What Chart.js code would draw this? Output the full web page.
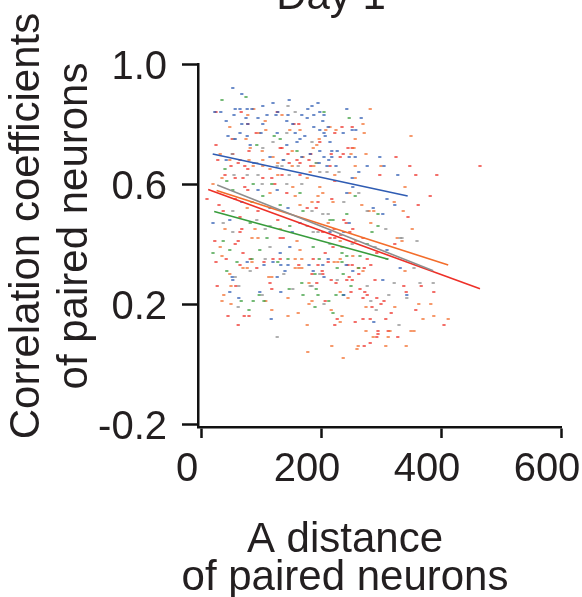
<!DOCTYPE html>
<html>
<head>
<meta charset="utf-8">
<script src="https://cdn.jsdelivr.net/npm/chart.js@4.4.1/dist/chart.umd.min.js"></script>
<style>
  html, body { margin: 0; padding: 0; background: #fff; }
  #wrap { width: 582px; height: 597px; }
</style>
</head>
<body>
<div id="wrap"><canvas id="chart" width="582" height="597"></canvas></div>
<script>
// values: [distance, correlation]
const bluePts = [[53,0.92],[68,0.90],[57,0.85],[65,0.85],[77,0.85],[85,0.85],[103,0.86],[120,0.87],[147,0.88],[23,0.84],[33,0.84],[42,0.81],[55,0.83],[75,0.82],[68,0.80],[78,0.80],[95,0.82],[103,0.80],[110,0.83],[128,0.84],[125,0.83],[145,0.83],[168,0.83],[178,0.85],[143,0.81],[153,0.80],[177,0.82],[65,0.77],[100,0.77],[127,0.77],[77,0.76],[157,0.77],[165,0.75],[45,0.76],[57,0.75],[82,0.73],[115,0.69],[143,0.73],[160,0.74],[173,0.76],[182,0.70],[137,0.68],[42,0.68],[88,0.67],[168,0.69],[195,0.87],[185,0.86],[243,0.85],[205,0.83],[198,0.84],[188,0.83],[203,0.81],[188,0.79],[198,0.78],[205,0.77],[212,0.79],[237,0.77],[252,0.78],[258,0.78],[267,0.82],[207,0.76],[215,0.74],[218,0.71],[227,0.71],[198,0.71],[205,0.69],[213,0.68],[218,0.69],[247,0.69],[257,0.69],[298,0.69],[277,0.66],[305,0.66],[197,0.67],[210,0.66],[225,0.66],[95,0.58],[127,0.58],[68,0.54],[115,0.52],[145,0.52],[20,0.47],[48,0.48],[165,0.47],[152,0.44],[132,0.37],[148,0.39],[263,0.64],[252,0.62],[328,0.63],[253,0.59],[243,0.57],[287,0.52],[310,0.55],[323,0.53],[303,0.50],[247,0.47],[215,0.44],[238,0.44],[310,0.38],[212,0.35],[77,0.34],[105,0.33],[120,0.34],[180,0.33],[133,0.33],[145,0.33],[140,0.31],[52,0.29],[127,0.29],[53,0.28],[48,0.24],[98,0.24],[133,0.24],[63,0.22],[117,0.15],[203,0.33],[242,0.33],[332,0.32],[187,0.31],[205,0.29],[253,0.31],[303,0.28],[238,0.23],[343,0.23],[288,0.14]];

const redPts = [[25,0.84],[67,0.84],[127,0.84],[78,0.80],[92,0.77],[163,0.80],[155,0.80],[52,0.75],[25,0.73],[80,0.71],[132,0.72],[135,0.72],[145,0.70],[165,0.67],[53,0.70],[65,0.68],[28,0.68],[73,0.66],[160,0.68],[180,0.68],[50,0.66],[62,0.67],[78,0.65],[147,0.67],[235,0.79],[252,0.79],[223,0.77],[198,0.74],[252,0.72],[245,0.72],[183,0.70],[217,0.70],[237,0.70],[232,0.69],[325,0.69],[348,0.66],[183,0.66],[215,0.66],[40,0.63],[57,0.62],[70,0.62],[103,0.62],[118,0.62],[135,0.63],[165,0.63],[73,0.59],[123,0.60],[78,0.58],[143,0.57],[10,0.55],[57,0.55],[95,0.51],[177,0.52],[30,0.53],[37,0.51],[65,0.49],[128,0.48],[68,0.45],[65,0.44],[57,0.40],[62,0.41],[23,0.41],[132,0.42],[137,0.42],[70,0.37],[82,0.35],[120,0.35],[298,0.63],[358,0.63],[223,0.61],[218,0.55],[362,0.53],[195,0.54],[192,0.52],[345,0.49],[238,0.48],[242,0.47],[203,0.44],[222,0.45],[248,0.44],[253,0.45],[233,0.43],[215,0.42],[223,0.42],[270,0.42],[220,0.39],[323,0.40],[207,0.37],[293,0.37],[277,0.35],[25,0.34],[42,0.35],[105,0.34],[132,0.35],[163,0.33],[65,0.33],[93,0.32],[115,0.27],[27,0.26],[58,0.26],[118,0.25],[45,0.16],[72,0.16],[80,0.16],[62,0.13],[187,0.35],[212,0.34],[195,0.33],[245,0.33],[252,0.33],[272,0.32],[283,0.33],[202,0.31],[203,0.30],[185,0.30],[263,0.30],[247,0.29],[217,0.28],[243,0.28],[252,0.28],[290,0.28],[225,0.27],[193,0.27],[338,0.26],[265,0.25],[273,0.24],[250,0.24],[277,0.23],[293,0.22],[342,0.24],[270,0.22],[207,0.21],[300,0.20],[305,0.21],[285,0.19],[317,0.17],[358,0.18],[227,0.15],[257,0.14],[270,0.15],[282,0.15],[308,0.15],[223,0.13],[295,0.11],[312,0.11],[295,0.10],[328,0.09],[293,0.09],[282,0.07],[272,0.06],[393,0.63],[465,0.66],[382,0.56],[367,0.26],[388,0.24],[405,0.13]];

const orangePts = [[78,0.83],[88,0.85],[135,0.83],[107,0.81],[48,0.79],[108,0.78],[97,0.77],[148,0.78],[165,0.78],[75,0.75],[82,0.72],[102,0.71],[152,0.71],[170,0.69],[32,0.70],[80,0.68],[103,0.68],[120,0.69],[48,0.68],[87,0.66],[103,0.66],[128,0.67],[115,0.65],[152,0.66],[282,0.85],[215,0.79],[208,0.78],[225,0.78],[270,0.80],[272,0.77],[257,0.75],[197,0.75],[193,0.73],[187,0.72],[255,0.72],[250,0.70],[275,0.70],[350,0.76],[257,0.66],[300,0.66],[188,0.66],[35,0.62],[128,0.63],[177,0.62],[20,0.60],[153,0.59],[115,0.57],[157,0.56],[77,0.52],[165,0.53],[40,0.45],[90,0.45],[132,0.45],[85,0.42],[95,0.42],[160,0.41],[165,0.38],[32,0.39],[35,0.36],[168,0.35],[182,0.64],[223,0.63],[257,0.62],[198,0.59],[203,0.57],[195,0.56],[248,0.57],[220,0.54],[268,0.53],[322,0.54],[340,0.59],[185,0.54],[280,0.51],[288,0.51],[283,0.47],[212,0.47],[352,0.45],[232,0.41],[258,0.41],[327,0.42],[235,0.39],[253,0.36],[232,0.35],[85,0.34],[157,0.35],[70,0.32],[77,0.32],[157,0.32],[163,0.32],[168,0.32],[48,0.30],[113,0.29],[118,0.29],[180,0.27],[50,0.26],[38,0.23],[145,0.22],[35,0.21],[108,0.21],[180,0.20],[50,0.20],[118,0.18],[162,0.17],[145,0.16],[177,0.13],[222,0.34],[228,0.34],[262,0.32],[270,0.31],[232,0.24],[245,0.22],[185,0.21],[275,0.19],[323,0.19],[363,0.20],[217,0.18],[235,0.16],[232,0.14],[275,0.11],[315,0.11],[350,0.11],[355,0.11],[312,0.09],[287,0.09],[262,0.06],[308,0.06],[342,0.06],[218,0.06],[337,0.51],[335,0.41],[340,0.31],[383,0.20],[370,0.15],[388,0.16],[412,0.15],[178,0.04],[237,0.02],[260,0.05]];

const greenPts = [[75,0.89],[35,0.88],[122,0.76],[132,0.75],[93,0.73],[160,0.71],[40,0.65],[205,0.84],[247,0.82],[192,0.67],[43,0.61],[87,0.60],[118,0.60],[53,0.58],[103,0.56],[165,0.57],[85,0.54],[132,0.53],[170,0.51],[82,0.47],[148,0.46],[37,0.41],[110,0.42],[48,0.38],[98,0.38],[20,0.37],[145,0.35],[257,0.56],[243,0.50],[295,0.50],[215,0.48],[220,0.48],[295,0.46],[285,0.44],[187,0.39],[277,0.40],[235,0.37],[243,0.36],[265,0.36],[60,0.34],[85,0.35],[128,0.34],[43,0.31],[168,0.27],[147,0.25],[97,0.23],[170,0.23],[67,0.21],[87,0.21],[105,0.21],[80,0.18],[197,0.35],[235,0.34],[263,0.32],[227,0.32],[190,0.30],[237,0.30],[250,0.26],[192,0.25],[237,0.23],[225,0.23],[195,0.23],[213,0.21],[190,0.19],[220,0.17]];

const grayPts = [[145,0.86],[157,0.84],[143,0.77],[55,0.75],[120,0.74],[103,0.72],[138,0.68],[52,0.70],[135,0.66],[127,0.66],[162,0.66],[93,0.67],[185,0.74],[193,0.67],[55,0.63],[77,0.63],[95,0.63],[147,0.63],[102,0.60],[143,0.60],[168,0.60],[53,0.51],[37,0.47],[93,0.48],[115,0.46],[177,0.46],[107,0.45],[53,0.44],[115,0.39],[107,0.35],[198,0.64],[210,0.64],[230,0.64],[263,0.57],[238,0.54],[185,0.51],[203,0.50],[212,0.50],[277,0.51],[308,0.45],[187,0.44],[195,0.44],[335,0.42],[360,0.41],[215,0.40],[252,0.40],[290,0.39],[82,0.31],[138,0.30],[57,0.29],[182,0.26],[63,0.26],[153,0.25],[102,0.23],[62,0.19],[127,0.09],[310,0.35],[198,0.30],[227,0.28],[277,0.26],[322,0.27],[185,0.26],[313,0.23],[343,0.22],[205,0.20],[283,0.21],[292,0.18],[330,0.13],[332,0.42],[355,0.32],[365,0.27],[387,0.27]];

// regression lines, start and end
const blueFit = [[19.5,0.70],[344.5,0.56]];
const redFit = [[12,0.582],[465,0.251]];
const orangeFit = [[26,0.578],[412,0.33]];
const grayFit = [[27,0.597],[387,0.311]];
const greenFit = [[22,0.508],[312,0.349]];

const xTicks = [0, 200, 400, 600];
const yTicks = [-0.2, 0.2, 0.6, 1.0];

const titleText = 'Day 1';
const xTitle = ['A distance', 'of paired neurons'];
const yTitle = ['Correlation coefficients', 'of paired neurons'];

const INK = '#231f20';
const FONT = '"Liberation Sans", Arial, Helvetica, sans-serif';

const COLORS = {
  blue: '#2f5cb3',
  red: '#ee3028',
  orange: '#f36d2b',
  green: '#389c3c',
  gray: '#8e8e8e'
};

function toXY(arr) {
  return arr.map(p => ({ x: p[0], y: p[1] }));
}

function pointSet(label, pts, color) {
  return {
    type: 'scatter',
    label: label,
    data: toXY(pts),
    pointStyle: 'line',
    pointRadius: 1.6,
    pointBorderWidth: 1.4,
    borderColor: color,
    backgroundColor: color,
    pointHoverRadius: 1.6,
    order: 2
  };
}

function fitSet(label, pts, color) {
  return {
    type: 'line',
    label: label,
    data: toXY(pts),
    borderColor: color,
    borderWidth: 1.6,
    pointRadius: 0,
    fill: false,
    order: 1
  };
}

// titles placed like the figure, off-centre from the plot area
const figureText = {
  id: 'figureText',
  afterDraw(chart) {
    const ctx = chart.ctx;
    ctx.save();
    ctx.fillStyle = INK;
    ctx.font = '42px ' + FONT;
    ctx.textAlign = 'center';
    ctx.textBaseline = 'alphabetic';
    ctx.fillText(titleText, 331, 9);

    ctx.fillText(xTitle[0], 345, 552);
    ctx.fillText(xTitle[1], 345, 590);

    ctx.translate(39, 226);
    ctx.rotate(-Math.PI / 2);
    ctx.fillText(yTitle[0], 0, 0);
    ctx.fillText(yTitle[1], 0, 48);
    ctx.restore();
  }
};

const ctx = document.getElementById('chart');

new Chart(ctx, {
  type: 'scatter',
  data: {
    datasets: [
      pointSet('blue', bluePts, COLORS.blue),
      pointSet('gray', grayPts, COLORS.gray),
      pointSet('green', greenPts, COLORS.green),
      pointSet('orange', orangePts, COLORS.orange),
      pointSet('red', redPts, COLORS.red),
      fitSet('blue fit', blueFit, COLORS.blue),
      fitSet('gray fit', grayFit, COLORS.gray),
      fitSet('orange fit', orangeFit, COLORS.orange),
      fitSet('red fit', redFit, COLORS.red),
      fitSet('green fit', greenFit, COLORS.green)
    ]
  },
  options: {
    responsive: false,
    animation: false,
    devicePixelRatio: 1,
    layout: { padding: { top: 64, right: 21, bottom: 0, left: 0 } },
    plugins: {
      legend: { display: false },
      title: { display: false },
      tooltip: { enabled: false }
    },
    scales: {
      x: {
        type: 'linear',
        min: -5,
        max: 600,
        afterBuildTicks: scale => { scale.ticks = xTicks.map(v => ({ value: v })); },
        afterFit: scale => {
          scale.height = 170;
          scale.paddingLeft = 0;
          scale.paddingRight = 0;
        },
        grid: {
          drawOnChartArea: false,
          drawTicks: true,
          tickLength: 11,
          tickWidth: 2.5,
          tickColor: '#111'
        },
        border: { display: true, color: '#111', width: 2.5 },
        ticks: {
          color: INK,
          font: { family: FONT, size: 40 },
          padding: 8,
          labelOffset: -14,
          maxRotation: 0,
          callback: v => String(v)
        }
      },
      y: {
        type: 'linear',
        min: -0.21,
        max: 1.0,
        afterBuildTicks: scale => { scale.ticks = yTicks.map(v => ({ value: v })); },
        afterFit: scale => {
          scale.width = 198;
          scale.paddingTop = 0;
          scale.paddingBottom = 0;
        },
        grid: {
          drawOnChartArea: false,
          drawTicks: true,
          tickLength: 16,
          tickWidth: 2.5,
          tickColor: '#111'
        },
        border: { display: true, color: '#111', width: 2.5 },
        ticks: {
          color: INK,
          font: { family: FONT, size: 40 },
          padding: 15,
          labelOffset: 4,
          callback: v => v.toFixed(1)
        }
      }
    }
  },
  plugins: [figureText]
});
</script>
</body>
</html>
